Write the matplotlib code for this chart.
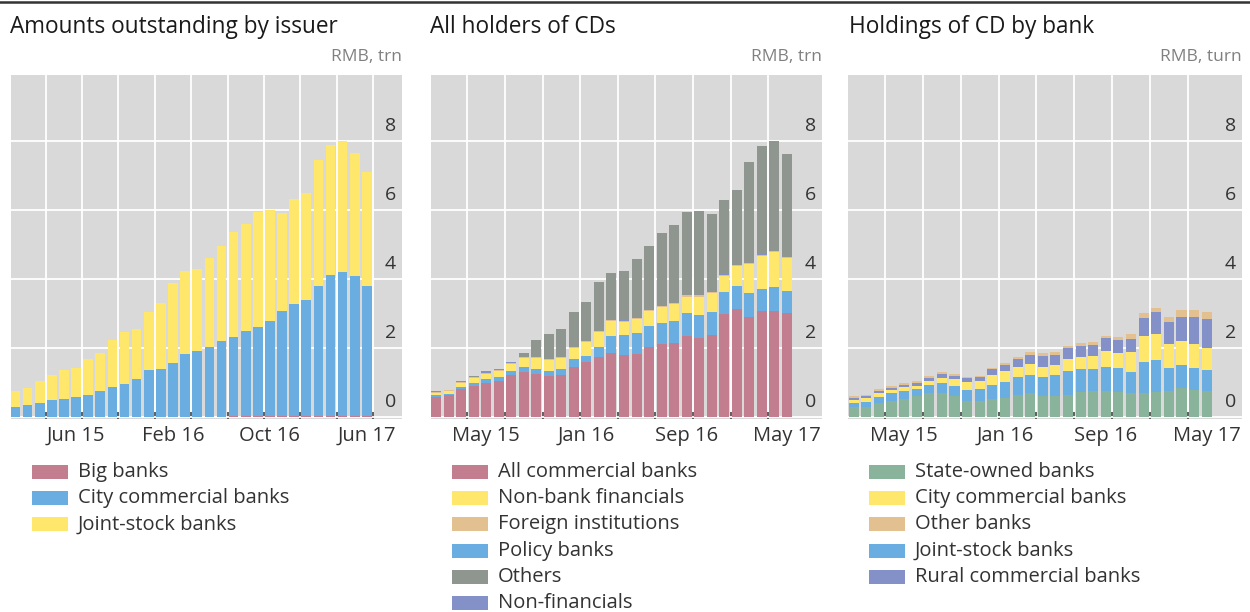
import matplotlib
matplotlib.use("Agg")
import matplotlib.pyplot as plt
import numpy as np
from matplotlib.patches import Rectangle
from matplotlib.lines import Line2D

plt.rcParams['font.family'] = ['Open Sans', 'DejaVu Sans']

# ---- data (RMB trn), monthly Jan 15 onwards ----
# panel 1: amounts outstanding by issuer, Jan 15 - Jun 17
issuer_big = [0, 0, 0, 0, 0, 0, 0, 0, 0, 0, 0, 0, 0, 0, 0, 0, 0, 0,
              0.03, 0.03, 0.03, 0.03, 0.03, 0.03, 0.03, 0.03, 0.03, 0.03, 0.03, 0.03]
issuer_city = [0.28, 0.34, 0.41, 0.48, 0.53, 0.59, 0.64, 0.74, 0.87, 0.94, 1.09, 1.35, 1.40, 1.56, 1.81,
               1.91, 2.04, 2.20, 2.29, 2.47, 2.59, 2.74, 3.03, 3.24, 3.35, 3.77, 4.09, 4.18, 4.06, 3.76]
issuer_joint = [0.46, 0.51, 0.62, 0.73, 0.83, 0.84, 1.03, 1.11, 1.36, 1.51, 1.46, 1.69, 1.91, 2.33, 2.42,
                2.39, 2.57, 2.76, 3.03, 3.09, 3.33, 3.23, 2.85, 3.05, 3.12, 3.64, 3.75, 3.78, 3.56, 3.31]
issuer_ticks = ["Jun 15", "Feb 16", "Oct 16", "Jun 17"]
issuer_tick_idx = [5, 13, 21, 29]

# panel 2: all holders of CDs, Jan 15 - May 17
hold_commercial = [0.58, 0.63, 0.80, 0.91, 0.99, 1.05, 1.22, 1.30, 1.25, 1.18, 1.22, 1.46, 1.58, 1.75, 1.85,
                   1.80, 1.83, 2.03, 2.12, 2.15, 2.34, 2.30, 2.38, 2.98, 3.14, 2.89, 3.07, 3.07, 3.02]
hold_policy = [0.05, 0.04, 0.07, 0.07, 0.12, 0.12, 0.11, 0.14, 0.14, 0.14, 0.16, 0.22, 0.19, 0.29, 0.51,
               0.57, 0.59, 0.60, 0.61, 0.64, 0.68, 0.66, 0.66, 0.64, 0.66, 0.69, 0.63, 0.71, 0.63]
hold_nonbank = [0.07, 0.07, 0.11, 0.15, 0.14, 0.15, 0.21, 0.26, 0.31, 0.32, 0.33, 0.32, 0.40, 0.42, 0.42,
                0.39, 0.42, 0.44, 0.45, 0.47, 0.47, 0.53, 0.56, 0.47, 0.56, 0.85, 0.97, 0.99, 0.95]
hold_foreign = [0.03] * 29
hold_nonfin = [0.01] * 29
hold_others = [0.00, 0.01, 0.02, 0.03, 0.03, 0.04, 0.02, 0.11, 0.48, 0.72, 0.81, 1.01, 1.11, 1.41, 1.36,
               1.43, 1.71, 1.83, 2.10, 2.26, 2.40, 2.43, 2.23, 2.15, 2.17, 2.92, 3.14, 3.18, 2.98]

# panel 3: holdings of CD by bank, Jan 15 - May 17
bank_state = [0.28, 0.30, 0.40, 0.47, 0.52, 0.62, 0.70, 0.70, 0.62, 0.45, 0.45, 0.52, 0.55, 0.65, 0.68,
              0.62, 0.60, 0.64, 0.72, 0.74, 0.75, 0.72, 0.70, 0.68, 0.72, 0.76, 0.84, 0.79, 0.75]
bank_joint = [0.12, 0.14, 0.18, 0.21, 0.23, 0.19, 0.22, 0.27, 0.27, 0.34, 0.36, 0.40, 0.46, 0.52, 0.54,
              0.55, 0.61, 0.70, 0.68, 0.66, 0.71, 0.69, 0.61, 0.90, 0.93, 0.65, 0.67, 0.63, 0.61]
bank_city = [0.10, 0.11, 0.12, 0.11, 0.12, 0.10, 0.11, 0.17, 0.20, 0.22, 0.22, 0.29, 0.32, 0.29, 0.31,
             0.29, 0.29, 0.34, 0.35, 0.37, 0.46, 0.44, 0.56, 0.76, 0.76, 0.69, 0.68, 0.68, 0.63]
bank_rural = [0.05, 0.05, 0.06, 0.06, 0.05, 0.08, 0.10, 0.11, 0.10, 0.12, 0.12, 0.17, 0.17, 0.22, 0.27,
              0.31, 0.29, 0.31, 0.30, 0.32, 0.36, 0.37, 0.39, 0.54, 0.62, 0.65, 0.72, 0.81, 0.86]
bank_other = [0.05, 0.05, 0.05, 0.06, 0.05, 0.05, 0.06, 0.05, 0.06, 0.04, 0.04, 0.05, 0.06, 0.06, 0.07,
              0.07, 0.08, 0.08, 0.09, 0.08, 0.08, 0.09, 0.13, 0.14, 0.12, 0.15, 0.18, 0.19, 0.18]
holder_ticks = ["May 15", "Jan 16", "Sep 16", "May 17"]
holder_tick_idx = [4, 12, 20, 28]

PINK = '#c27d8e'
BLUE = '#6aade0'
YELLOW = '#ffe76b'
TAN = '#e3c08f'
GREY = '#8f968f'
PURPLE = '#8490c8'
GREEN = '#8ab39b'
BG = '#d9d9d9'

fig = plt.figure(figsize=(12.5, 6.12), dpi=100)
W, H = 1250, 612


def px_axes(left, right, top, bottom):
    return fig.add_axes([left / W, 1 - bottom / H, (right - left) / W, (bottom - top) / H])


def draw_panel(ax, series, colors, xlim, tick_idx, tick_lbls, unit):
    n = len(series[0])
    x = np.arange(n)
    base = np.zeros(n)
    for vals, col in zip(series, colors):
        ax.bar(x, vals, bottom=base, width=0.8, color=col, linewidth=0, zorder=2)
        base = base + np.array(vals)
    ax.set_facecolor(BG)
    ax.set_xlim(*xlim)
    ax.set_ylim(-0.06, 9.91)
    for s in ax.spines.values():
        s.set_visible(False)
    ax.set_yticks([0, 2, 4, 6, 8])
    ax.set_yticklabels([])
    ax.tick_params(axis='y', length=0)
    ax.set_xticks(tick_idx)
    ax.set_xticklabels(tick_lbls, fontsize=14.5, color='#333333')
    ax.set_xticks(np.arange(2.5, n, 3), minor=True)
    ax.tick_params(axis='x', which='major', length=0, pad=5)
    ax.tick_params(axis='x', which='minor', direction='in', length=5, width=1.2, color='#444444')
    ax.grid(True, which='minor', axis='x', color='white', linewidth=1.3, zorder=0)
    ax.grid(True, which='major', axis='y', color='white', linewidth=1.3, zorder=0)
    ax.set_axisbelow(True)
    for v in [0, 2, 4, 6, 8]:
        ax.text(0.985, v + 0.18, str(v), transform=ax.get_yaxis_transform(),
                ha='right', va='bottom', fontsize=14, color='#333333')
    ax.text(1.0, 1.03, unit, transform=ax.transAxes, ha='right', va='bottom',
            fontsize=12.5, color='#808080')


def draw_legend(x_patch, labels, colors):
    for i, (lab, col) in enumerate(zip(labels, colors)):
        yc = 472 + i * 26.2
        fig.patches.append(Rectangle((x_patch / W, 1 - (yc + 7) / H), 36 / W, 14 / H,
                                     transform=fig.transFigure, facecolor=col, edgecolor='none'))
        fig.text((x_patch + 46) / W, 1 - yc / H, lab, ha='left', va='center',
                 fontsize=14.5, color='#333333')


ax1 = px_axes(11, 402, 75, 419)
draw_panel(ax1, [issuer_big, issuer_city, issuer_joint], [PINK, BLUE, YELLOW],
           (-0.37, 31.9), issuer_tick_idx, issuer_ticks, 'RMB, trn')

ax2 = px_axes(431, 822, 75, 419)
draw_panel(ax2, [hold_commercial, hold_policy, hold_nonbank, hold_foreign, hold_nonfin, hold_others],
           [PINK, BLUE, YELLOW, TAN, PURPLE, GREY],
           (-0.4, 30.8), holder_tick_idx, holder_ticks, 'RMB, trn')

ax3 = px_axes(848, 1242, 75, 419)
draw_panel(ax3, [bank_state, bank_joint, bank_city, bank_rural, bank_other],
           [GREEN, BLUE, YELLOW, PURPLE, TAN],
           (-0.45, 30.8), holder_tick_idx, holder_ticks, 'RMB, turn')

titles = ["Amounts outstanding by issuer", "All holders of CDs", "Holdings of CD by bank"]
for xt, t in zip([10, 430, 849], titles):
    fig.text(xt / W, 1 - 27 / H, t, ha='left', va='center', fontsize=16.3, color='#1a1a1a')

fig.add_artist(Line2D([0, 1], [1 - 1.5 / H, 1 - 1.5 / H], color='#333333', linewidth=1.8))

draw_legend(32, ["Big banks", "City commercial banks", "Joint-stock banks"], [PINK, BLUE, YELLOW])
draw_legend(452, ["All commercial banks", "Non-bank financials", "Foreign institutions",
                  "Policy banks", "Others", "Non-financials"],
            [PINK, YELLOW, TAN, BLUE, GREY, PURPLE])
draw_legend(869, ["State-owned banks", "City commercial banks", "Other banks",
                  "Joint-stock banks", "Rural commercial banks"],
            [GREEN, YELLOW, TAN, BLUE, PURPLE])

fig.savefig("out.png", dpi=100)
